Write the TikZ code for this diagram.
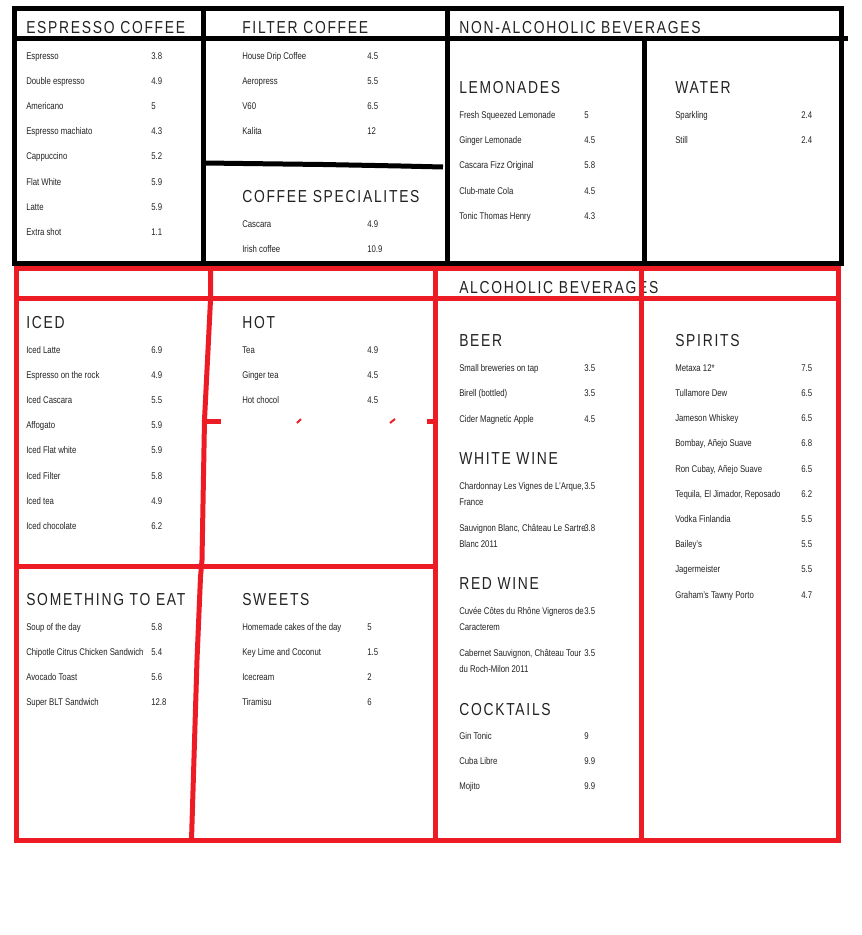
\documentclass[tikz,border=0pt]{standalone}
\usepackage{fontspec}
\setmainfont{Liberation Sans}[FakeStretch=0.8]
\newfontfamily\headfamily{Liberation Sans}[FakeStretch=0.8,LetterSpace=10]
\definecolor{menured}{HTML}{ED1C24}
\definecolor{menutext}{HTML}{222222}
\tikzset{
  dish/.style={anchor=base west,inner sep=0pt,text=menutext,font=\fontsize{7.3}{8.5}\selectfont},
  heading/.style={anchor=base west,inner sep=0pt,text=menutext,font=\headfamily\fontsize{13}{15}\selectfont},
  blackline/.style={line width=3.75pt},
  redline/.style={line width=3.75pt,draw=menured}
}
\begin{document}
\begin{tikzpicture}[x=0.75pt,y=-0.75pt]
\useasboundingbox (0,0) rectangle (861,935);

% headings
\foreach \tname/\ttext/\tx/\ty in {
  espresso/ESPRESSO COFFEE/26/33, filter/FILTER COFFEE/242/33,
  nonalc/NON-ALCOHOLIC BEVERAGES/459/33, special/COFFEE SPECIALITES/242/202,
  lemon/LEMONADES/459/93.3, water/WATER/675/93.3,
  alc/ALCOHOLIC BEVERAGES/459/293.3, iced/ICED/26/328.3, hot/HOT/242/328.3,
  beer/BEER/459/346.7, spirits/SPIRITS/675/346.7, white/WHITE WINE/459/464.3,
  red/RED WINE/459/589.3, cocktails/COCKTAILS/459/715,
  eat/SOMETHING TO EAT/26/605, sweets/SWEETS/242/605}
  \node[heading] (\tname) at (\tx,\ty) {\ttext};

% black part
\foreach \dname/\dcost [count=\i] in {Espresso/3.8, Double espresso/4.9, Americano/5,
  Espresso machiato/4.3, Cappuccino/5.2, Flat White/5.9, Latte/5.9, Extra shot/1.1}{
  \node[dish] (esp-\i) at (26,{59+25.2*(\i-1)}) {\dname};
  \node[dish] (esp-p\i) at (151,{59+25.2*(\i-1)}) {\dcost};
}
\foreach \dname/\dcost [count=\i] in {House Drip Coffee/4.5, Aeropress/5.5, V60/6.5, Kalita/12}{
  \node[dish] (fil-\i) at (242,{59+25.2*(\i-1)}) {\dname};
  \node[dish] (fil-p\i) at (367,{59+25.2*(\i-1)}) {\dcost};
}
\foreach \dname/\dcost [count=\i] in {Cascara/4.9, Irish coffee/10.9}{
  \node[dish] (spe-\i) at (242,{227+25.2*(\i-1)}) {\dname};
  \node[dish] (spe-p\i) at (367,{227+25.2*(\i-1)}) {\dcost};
}
\foreach \dname/\dcost [count=\i] in {Fresh Squeezed Lemonade/5, Ginger Lemonade/4.5,
  Cascara Fizz Original/5.8, Club-mate Cola/4.5, Tonic Thomas Henry/4.3}{
  \node[dish] (lem-\i) at (459,{118.5+25.2*(\i-1)}) {\dname};
  \node[dish] (lem-p\i) at (584,{118.5+25.2*(\i-1)}) {\dcost};
}
\foreach \dname/\dcost [count=\i] in {Sparkling/2.4, Still/2.4}{
  \node[dish] (wat-\i) at (675,{118.5+25.2*(\i-1)}) {\dname};
  \node[dish] (wat-p\i) at (801,{118.5+25.2*(\i-1)}) {\dcost};
}

% red part
\foreach \dname/\dcost [count=\i] in {Iced Latte/6.9, Espresso on the rock/4.9, Iced Cascara/5.5,
  Affogato/5.9, Iced Flat white/5.9, Iced Filter/5.8, Iced tea/4.9, Iced chocolate/6.2}{
  \node[dish] (ice-\i) at (26,{353.3+25.15*(\i-1)}) {\dname};
  \node[dish] (ice-p\i) at (151,{353.3+25.15*(\i-1)}) {\dcost};
}
\foreach \dname/\dcost [count=\i] in {Tea/4.9, Ginger tea/4.5, Hot chocol/4.5}{
  \node[dish] (hot-\i) at (242,{353.3+25.15*(\i-1)}) {\dname};
  \node[dish] (hot-p\i) at (367,{353.3+25.15*(\i-1)}) {\dcost};
}
\foreach \dname/\dcost [count=\i] in {Soup of the day/5.8, Chipotle Citrus Chicken Sandwich/5.4,
  Avocado Toast/5.6, Super BLT Sandwich/12.8}{
  \node[dish] (eat-\i) at (26,{630.3+25.2*(\i-1)}) {\dname};
  \node[dish] (eat-p\i) at (151,{630.3+25.2*(\i-1)}) {\dcost};
}
\foreach \dname/\dcost [count=\i] in {Homemade cakes of the day/5, Key Lime and Coconut/1.5,
  Icecream/2, Tiramisu/6}{
  \node[dish] (swe-\i) at (242,{630.3+25.2*(\i-1)}) {\dname};
  \node[dish] (swe-p\i) at (367,{630.3+25.2*(\i-1)}) {\dcost};
}
\foreach \dname/\dcost [count=\i] in {Small breweries on tap/3.5, Birell (bottled)/3.5,
  Cider Magnetic Apple/4.5}{
  \node[dish] (bee-\i) at (459,{371.3+25.4*(\i-1)}) {\dname};
  \node[dish] (bee-p\i) at (584,{371.3+25.4*(\i-1)}) {\dcost};
}
\node[dish] (whi-1) at (459,489) {Chardonnay Les Vignes de L’Arque,};
\node[dish] (whi-1b) at (459,505) {France};
\node[dish] (whi-p1) at (584,489) {3.5};
\node[dish] (whi-2) at (459,531) {Sauvignon Blanc, Château Le Sartre};
\node[dish] (whi-2b) at (459,547) {Blanc 2011};
\node[dish] (whi-p2) at (584,531) {3.8};
\node[dish] (rw-1) at (459,614) {Cuvée Côtes du Rhône Vigneros de};
\node[dish] (rw-1b) at (459,630) {Caracterem};
\node[dish] (rw-p1) at (584,614) {3.5};
\node[dish] (rw-2) at (459,656) {Cabernet Sauvignon, Château Tour};
\node[dish] (rw-2b) at (459,672) {du Roch-Milon 2011};
\node[dish] (rw-p2) at (584,656) {3.5};
\foreach \dname/\dcost [count=\i] in {Gin Tonic/9, Cuba Libre/9.9, Mojito/9.9}{
  \node[dish] (coc-\i) at (459,{739.3+25.3*(\i-1)}) {\dname};
  \node[dish] (coc-p\i) at (584,{739.3+25.3*(\i-1)}) {\dcost};
}
\foreach \dname/\dcost [count=\i] in {Metaxa 12*/7.5, Tullamore Dew/6.5, Jameson Whiskey/6.5,
  {Bombay, Añejo Suave}/6.8, {Ron Cubay, Añejo Suave}/6.5, {Tequila, El Jimador, Reposado}/6.2,
  Vodka Finlandia/5.5, Bailey’s/5.5, Jagermeister/5.5, Graham’s Tawny Porto/4.7}{
  \node[dish] (spi-\i) at (675,{371.3+25.2*(\i-1)}) {\dname};
  \node[dish] (spi-p\i) at (801,{371.3+25.2*(\i-1)}) {\dcost};
}

% frames
\draw[blackline] (14.5,8) rectangle (841,263.5);
\draw[blackline] (14.5,38.5) -- (848,38.5);
\draw[blackline] (203.5,8) -- (203.5,263.5);
\draw[blackline] (447.5,8) -- (447.5,263.5);
\draw[blackline] (644.5,38.5) -- (644.5,263.5);
\draw[blackline] (205,163) -- (243,163.5) -- (323,164.5) -- (401,166) -- (443,167);

\draw[redline] (16.5,268.5) rectangle (838.5,840);
\draw[redline] (16.5,298.5) -- (838.5,298.5);
\draw[redline] (435,268.5) -- (435,840);
\draw[redline] (641.5,268.5) -- (641.5,840);
\draw[redline] (16.5,566.5) -- (435,566.5);
\draw[redline] (210.5,268.5) -- (210.5,300) -- (204.5,420) -- (202,560) -- (200.5,577)
  -- (197,660) -- (191.5,840);
\draw[redline] (204,421.5) -- (221,421.5);
\draw[redline,line width=1.5pt] (297,423) -- (301,419) (390,423) -- (395,419);
\draw[redline] (427,421.5) -- (435,421.5);

\end{tikzpicture}
\end{document}
